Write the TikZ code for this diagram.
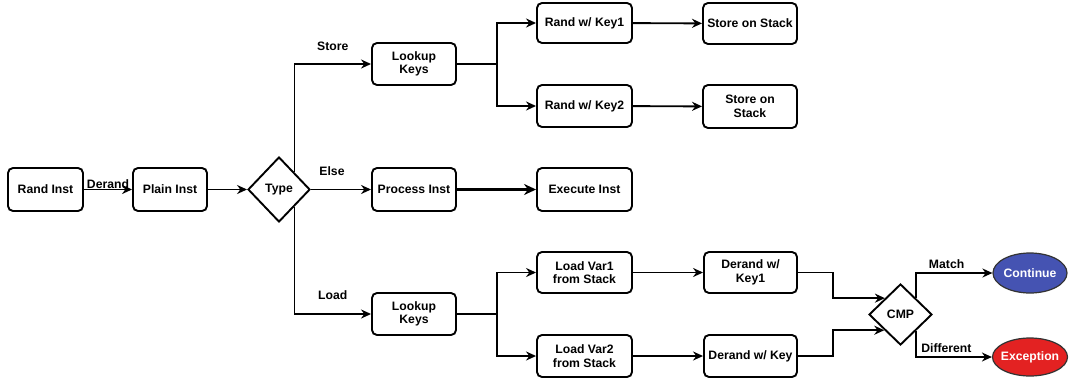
\documentclass[tikz,border=0pt]{standalone}
\usepackage{fontspec}
\setmainfont{Liberation Sans}
\usetikzlibrary{shapes.geometric,arrows.meta,calc}
\definecolor{contblue}{HTML}{4553B2}
\definecolor{excred}{HTML}{E32222}
\begin{document}
\begin{tikzpicture}[x=1pt,y=-1pt,
  font=\fontsize{12.2}{13.5}\selectfont\bfseries,
  box/.style={draw,line width=1.9pt,rounded corners=5pt,align=center,inner sep=0pt},
  dia/.style={draw,line width=1.9pt,diamond,inner sep=0pt},
  oval/.style={draw=black!80,line width=1.2pt,ellipse,inner ysep=0pt,inner xsep=-9pt,text=white},
  ln/.style={line width=1.9pt},
  arr/.style={ln,-{Stealth[length=10pt,width=9pt]}},
  lab/.style={inner sep=1pt}]
\useasboundingbox (0,0) rectangle (1070,380);
% nodes
\node[box,minimum width=75pt,minimum height=43pt] (ri) at (45.5,189.5) {Rand Inst};
\node[box,minimum width=74pt,minimum height=43pt] (pi) at (170,189.5) {Plain Inst};
\node[dia,minimum width=62pt,minimum height=65pt] (ty) at (279,189.5) {Type};
\node[box,minimum width=84pt,minimum height=42pt] (lk1) at (414,64) {Lookup\\Keys};
\node[box,minimum width=84pt,minimum height=43pt] (proc) at (414,189.5) {Process Inst};
\node[box,minimum width=84pt,minimum height=42pt] (lk2) at (414,314) {Lookup\\Keys};
\node[box,minimum width=95pt,minimum height=40pt] (rk1) at (584.5,23) {Rand w/ Key1};
\node[box,minimum width=95pt,minimum height=42pt] (rk2) at (584.5,106) {Rand w/ Key2};
\node[box,minimum width=95pt,minimum height=43pt] (exe) at (584.5,189.5) {Execute Inst};
\node[box,minimum width=95pt,minimum height=41pt] (lv1) at (584.5,272.5) {Load Var1\\from Stack};
\node[box,minimum width=95pt,minimum height=42pt] (lv2) at (584.5,356) {Load Var2\\from Stack};
\node[box,minimum width=94pt,minimum height=41pt] (ss1) at (750,23.5) {Store on Stack};
\node[box,minimum width=94pt,minimum height=43pt] (ss2) at (750,106.5) {Store on\\Stack};
\node[box,minimum width=93pt,minimum height=41pt] (dk1) at (750.5,272.5) {Derand w/\\Key1};
\node[box,minimum width=93pt,minimum height=42pt] (dk2) at (750.5,356) {Derand w/ Key};
\node[dia,minimum width=63pt,minimum height=61pt] (cmp) at (900.5,314.5) {CMP};
\node[oval,fill=contblue,minimum width=74pt,minimum height=40pt] (cont) at (1030,273) {Continue};
\node[oval,fill=excred,minimum width=75pt,minimum height=38pt] (exc) at (1030,357) {Exception};
% connectors
\draw[arr] (ri) -- node[lab,above=-1pt] {Derand} (pi);
\draw[arr] (pi) -- (ty);
\coordinate (tn) at ($(ty.north)!0.484!(ty.east)$);
\coordinate (ts) at ($(ty.south)!0.484!(ty.east)$);
\draw[arr] (tn) |- node[lab,pos=0.75,above=11pt] {Store} (lk1);
\draw[arr] (ts) |- node[lab,pos=0.75,above=12pt] {Load} (lk2);
\draw[arr] (ty.east) -- node[lab,above=12pt,pos=0.35] {Else} (proc);
\draw[line width=3.2pt,-{Stealth[length=12pt,width=11pt]}] (proc) -- (exe);
\draw[arr] (lk1.east) -- ++(40,0) |- (rk1);
\draw[arr] (lk1.east) -- ++(40,0) |- (rk2);
\draw[arr] (lk2.east) -- ++(40,0) |- (lv1);
\draw[arr] (lk2.east) -- ++(40,0) |- (lv2);
\draw[arr] (rk1) -- (ss1);
\draw[arr] (rk2) -- (ss2);
\draw[arr] (lv1) -- (dk1);
\draw[arr] (lv2) -- (dk2);
\coordinate (c1) at ($(cmp.west)!0.52!(cmp.north)$);
\coordinate (c2) at ($(cmp.west)!0.5!(cmp.south)$);
\draw[arr] (dk1.east) -- ++(35,0) |- (c1);
\draw[arr] (dk2.east) -- ++(35,0) |- (c2);
\coordinate (c3) at ($(cmp.north)!0.48!(cmp.east)$);
\coordinate (c4) at ($(cmp.south)!0.48!(cmp.east)$);
\draw[arr] (c3) |- node[lab,pos=0.7,above=2pt] {Match} (cont);
\draw[arr] (c4) |- node[lab,pos=0.7,above=2pt] {Different} (exc);
\end{tikzpicture}
\end{document}
